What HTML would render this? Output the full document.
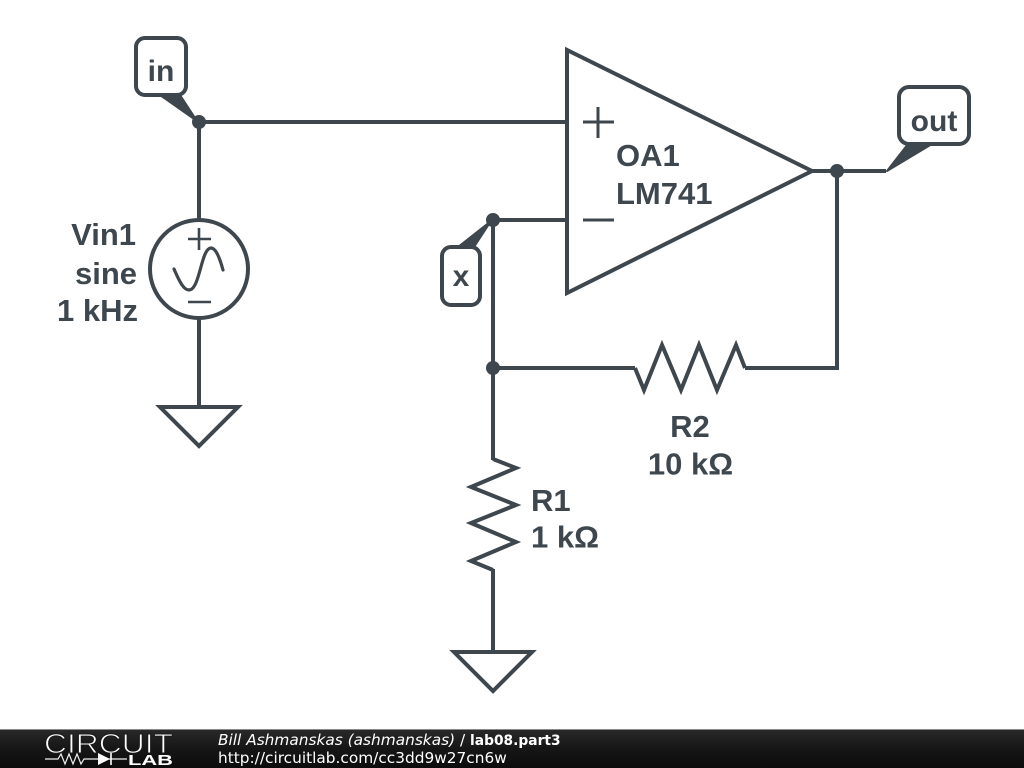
<!DOCTYPE html>
<html>
<head>
<meta charset="utf-8">
<style>
html,body{margin:0;padding:0;background:#fff;width:1024px;height:768px;overflow:hidden}
svg{display:block}
.w{fill:none;stroke:#3d474d;stroke-width:4;stroke-linejoin:miter;stroke-linecap:butt}
.p{fill:#3d474d;stroke:#3d474d;stroke-width:2;stroke-linejoin:round}
.t{fill:#3d474d;font-family:"Liberation Sans",sans-serif;font-weight:bold;font-size:31px}
.l{fill:#3d474d;font-family:"Liberation Sans",sans-serif;font-weight:bold;font-size:30px}
.f{fill:#fff;font-family:"DejaVu Sans",sans-serif;font-size:15.35px}
</style>
</head>
<body>
<svg width="1024" height="768" viewBox="0 0 1024 768" xmlns="http://www.w3.org/2000/svg">
<defs>
<linearGradient id="g" x1="0" y1="0" x2="0" y2="1">
<stop offset="0" stop-color="#2a2a2a"/><stop offset="0.5" stop-color="#161616"/><stop offset="1" stop-color="#0c0c0c"/>
</linearGradient>
</defs>
<rect width="1024" height="768" fill="#fff"/>

<!-- wires -->
<path class="w" d="M199 122H567M199 122V220M199 318V407"/>
<path class="w" d="M493 220H567M493 220V460M493 368H635M745 368H837V171M812 171H886"/>
<path class="w" d="M493 569V652"/>

<!-- op amp -->
<path class="w" d="M567 50V293L812 171Z"/>
<path class="w" style="stroke-width:3" d="M583 122H614M598 107V138M583 220H614"/>

<!-- resistors -->
<path class="w" d="M493 459L516 468L471 487L516 505L471 523L516 542L471 561L493 570"/>
<path class="w" d="M635 368L644 390L662 345L681 390L699 345L717 390L736 345L745 368"/>

<!-- source -->
<circle class="w" cx="199" cy="269" r="49"/>
<path class="w" style="stroke-width:2.6" d="M188 239H211M199 228V250M188 302H211"/>
<path class="w" style="stroke-width:3.2;stroke-linecap:round" d="M174 269C180 283 184 290 189 290C200 290 201 248 211 248C216 248 220 259 223 270"/>

<!-- grounds -->
<path class="w" d="M160 407H238L199 446Z"/>
<path class="w" d="M454 652H532L493 691Z"/>

<!-- flag pointers -->
<path class="p" d="M197 121L160 95L180 95Z"/>
<path class="p" d="M491 221L458 247L474 247Z"/>
<path class="p" d="M887 171L908 144L932 144Z"/>

<!-- junctions -->
<circle cx="199" cy="122" r="7" fill="#3d474d"/>
<circle cx="493" cy="220" r="7" fill="#3d474d"/>
<circle cx="493" cy="368" r="7" fill="#3d474d"/>
<circle cx="837" cy="171" r="7" fill="#3d474d"/>

<!-- flags -->
<rect class="w" x="136" y="38" width="50" height="57" rx="9" style="fill:#fff"/>
<rect class="w" x="442" y="247" width="38" height="58" rx="9" style="fill:#fff"/>
<rect class="w" x="899" y="87" width="70" height="57" rx="10" style="fill:#fff"/>

<!-- labels -->
<text class="l" x="161" y="81" text-anchor="middle">in</text>
<text class="l" x="461" y="286" text-anchor="middle">x</text>
<text class="l" x="934" y="131" text-anchor="middle">out</text>
<text class="t" x="136" y="245" text-anchor="end">Vin1</text>
<text class="t" x="137" y="284" text-anchor="end">sine</text>
<text class="t" x="138" y="321" text-anchor="end">1 kHz</text>
<text class="t" x="616" y="166">OA1</text>
<text class="t" x="616" y="204">LM741</text>
<text class="t" x="690" y="437" text-anchor="middle">R2</text>
<text class="t" x="690.5" y="474.5" text-anchor="middle">10 kΩ</text>
<text class="t" x="531" y="511">R1</text>
<text class="t" x="531" y="547.5">1 kΩ</text>

<!-- footer -->
<rect x="0" y="729" width="1024" height="39" fill="url(#g)"/>
<rect x="0" y="729" width="1024" height="1" fill="#8a8a8a"/>
<text x="44" y="753" textLength="129" lengthAdjust="spacingAndGlyphs" style="font-family:'Liberation Sans',sans-serif;font-size:28px;fill:#fff;stroke:#1a1a1a;stroke-width:1;paint-order:fill stroke">CIRCUIT</text>
<path d="M45 759H58L61 754L65 764L69 754L73 764L77 754L81 764L84 759H127" fill="none" stroke="#f0f0f0" stroke-width="1.2"/>
<path d="M98 753V765L110 759Z" fill="#fff"/>
<path d="M111 753V765" stroke="#fff" stroke-width="1.6" fill="none"/>
<text x="128" y="765" textLength="45" lengthAdjust="spacingAndGlyphs" style="font-family:'Liberation Sans',sans-serif;font-size:15px;font-weight:bold;fill:#fff">LAB</text>
<text class="f" x="218" y="745"><tspan font-style="oblique">Bill Ashmanskas (ashmanskas)</tspan> / <tspan font-weight="bold" font-size="13.8">lab08.part3</tspan></text>
<text class="f" x="218" y="763">http://circuitlab.com/cc3dd9w27cn6w</text>
</svg>
</body>
</html>
